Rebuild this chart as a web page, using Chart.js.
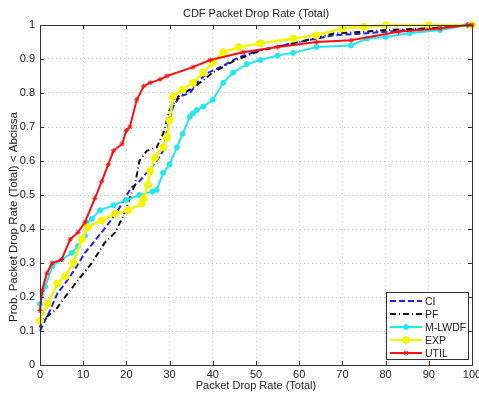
<!DOCTYPE html>
<html>
<head>
<meta charset="utf-8">
<script src="https://cdn.jsdelivr.net/npm/chart.js@4"></script>
<style>
  html, body { margin: 0; padding: 0; background: #fff; }
  #wrap { width: 479px; height: 393px; }
</style>
</head>
<body>
<div id="wrap"><canvas id="cdf-chart" width="479" height="393"></canvas></div>
<script>
// values (x = packet drop rate, y = CDF)
const ciX = [0, 2.3, 4, 5.8, 8, 10.4, 13, 15.5, 17.8, 19.7, 21, 23, 25, 27, 28.5, 29.6, 30.8, 32.4, 34.7, 37, 39, 41.7, 46, 51, 56, 60, 68, 75, 80, 85, 90, 95, 100];
const ciY = [0.10, 0.16, 0.21, 0.24, 0.28, 0.33, 0.37, 0.41, 0.45, 0.49, 0.52, 0.54, 0.57, 0.60, 0.63, 0.70, 0.76, 0.79, 0.80, 0.84, 0.86, 0.876, 0.905, 0.926, 0.94, 0.95, 0.97, 0.975, 0.98, 0.985, 0.99, 0.995, 1.0];

const pfX = [0, 0.4, 2.8, 3.5, 5.8, 8.8, 12, 15, 17.4, 19.7, 21, 22, 23, 24.7, 27, 28.5, 30, 32, 34.7, 37, 40, 45, 51, 60, 68, 75, 80, 90, 100];
const pfY = [0.11, 0.13, 0.155, 0.16, 0.20, 0.25, 0.30, 0.36, 0.39, 0.45, 0.50, 0.53, 0.60, 0.63, 0.64, 0.68, 0.75, 0.79, 0.81, 0.83, 0.86, 0.895, 0.925, 0.95, 0.975, 0.98, 0.985, 0.99, 1.0];

const mlwdfX = [0, 1.2, 2.8, 5, 7.4, 8.8, 10.4, 10.8, 12, 13.9, 17, 20, 23, 26, 27, 28.5, 30, 31.7, 33, 34.7, 35.4, 36.3, 37.8, 40, 42.4, 44.7, 47.9, 51, 55, 58.6, 64, 72, 75.7, 80, 85.6, 92.6, 99, 100];
const mlwdfY = [0.18, 0.23, 0.29, 0.31, 0.33, 0.35, 0.38, 0.42, 0.43, 0.455, 0.47, 0.485, 0.50, 0.51, 0.515, 0.565, 0.59, 0.64, 0.68, 0.73, 0.74, 0.75, 0.76, 0.78, 0.83, 0.86, 0.885, 0.897, 0.91, 0.918, 0.935, 0.94, 0.96, 0.965, 0.976, 0.985, 1.0, 1.0];

const expX = [0, 1.8, 4, 5.8, 7.7, 9.7, 11, 14.3, 17.4, 20.4, 23.6, 24, 25, 25.5, 26.6, 28.5, 29.4, 30, 30.8, 33, 35.4, 37.8, 40, 42.4, 46, 51, 58.6, 64, 70, 75, 80, 90, 100];
const expY = [0.13, 0.18, 0.24, 0.26, 0.30, 0.37, 0.405, 0.425, 0.445, 0.455, 0.475, 0.49, 0.53, 0.57, 0.61, 0.64, 0.67, 0.72, 0.79, 0.81, 0.83, 0.86, 0.89, 0.92, 0.935, 0.946, 0.96, 0.97, 0.99, 0.995, 1.0, 1.0, 1.0];

const utilX = [0, 0.5, 1.6, 2.8, 5, 7, 8.8, 10.4, 12.7, 14.3, 15.8, 17, 19, 20, 20.8, 22.4, 24, 25.5, 27.8, 29.4, 35.4, 39.4, 47, 55, 64, 72, 83, 92.6, 99, 100];
const utilY = [0.16, 0.22, 0.27, 0.30, 0.31, 0.37, 0.39, 0.42, 0.49, 0.54, 0.59, 0.63, 0.65, 0.69, 0.70, 0.78, 0.82, 0.83, 0.84, 0.85, 0.876, 0.897, 0.92, 0.935, 0.95, 0.955, 0.98, 0.99, 1.0, 1.0];

const seriesNames = ['CI', 'PF', 'M-LWDF', 'EXP', 'UTIL'];
const xTicks = [0, 10, 20, 30, 40, 50, 60, 70, 80, 90, 100];
const yTicks = [0, 0.1, 0.2, 0.3, 0.4, 0.5, 0.6, 0.7, 0.8, 0.9, 1];

const chartTitle = 'CDF Packet Drop Rate (Total)';
const yTitle = 'Prob. Packet Drop Rate (Total) < Abcissa';

const FONT = '"Liberation Sans", Arial, sans-serif';

function pairs(xs, ys) {
    return xs.map((x, i) => ({ x: x, y: ys[i] }));
}

// frame, inward tick marks, titles and the boxed legend, MATLAB style
const matlabFrame = {
    id: 'matlabFrame',
    afterDraw(chart) {
        const ctx = chart.ctx;
        const area = chart.chartArea;
        const xs = chart.scales.x;
        const ys = chart.scales.y;
        ctx.save();
        ctx.strokeStyle = '#333';
        ctx.lineWidth = 1;
        ctx.beginPath();
        xTicks.forEach(v => {
            const px = Math.round(xs.getPixelForValue(v)) + 0.5;
            ctx.moveTo(px, area.bottom); ctx.lineTo(px, area.bottom - 4);
            ctx.moveTo(px, area.top); ctx.lineTo(px, area.top + 4);
        });
        yTicks.forEach(v => {
            const py = Math.round(ys.getPixelForValue(v)) + 0.5;
            ctx.moveTo(area.left, py); ctx.lineTo(area.left + 4, py);
            ctx.moveTo(area.right, py); ctx.lineTo(area.right - 4, py);
        });
        ctx.stroke();
        ctx.strokeRect(Math.round(area.left) + 0.5, Math.round(area.top) + 0.5,
            Math.round(area.right - area.left), Math.round(area.bottom - area.top));

        // titles
        ctx.fillStyle = '#222';
        ctx.font = '11px ' + FONT;
        ctx.textAlign = 'center';
        ctx.textBaseline = 'middle';
        ctx.fillText(chartTitle, (area.left + area.right) / 2, 14);
        ctx.save();
        ctx.translate(14, 217);
        ctx.rotate(-Math.PI / 2);
        ctx.font = '11.5px ' + FONT;
        ctx.fillText(yTitle, 0, 0);
        ctx.restore();

        // legend box
        const bx = 386, by = 292, bw = 82, bh = 67;
        ctx.fillStyle = '#fff';
        ctx.fillRect(bx, by, bw, bh);
        ctx.strokeRect(bx + 0.5, by + 0.5, bw, bh);
        ctx.textAlign = 'left';
        ctx.font = '10.5px ' + FONT;
        chart.data.datasets.forEach((ds, i) => {
            const y = by + 9 + i * 13;
            ctx.save();
            ctx.strokeStyle = ds.borderColor;
            ctx.lineWidth = 2;
            ctx.setLineDash(ds.borderDash || []);
            ctx.beginPath();
            ctx.moveTo(390, y); ctx.lineTo(422, y);
            ctx.stroke();
            ctx.restore();
            if (ds.pointRadius > 0) {
                ctx.save();
                ctx.fillStyle = ds.borderColor;
                ctx.strokeStyle = ds.borderColor;
                Chart.helpers.drawPoint(ctx, {
                    pointStyle: ds.pointStyle,
                    radius: ds.pointRadius,
                    borderWidth: 1,
                    rotation: 0
                }, 406, y);
                ctx.restore();
            }
            ctx.fillStyle = '#222';
            ctx.fillText(ds.label, 425, y + 1);
        });
        ctx.restore();
    }
};

const ctx = document.getElementById('cdf-chart');
const cdfChart = new Chart(ctx, {
    type: 'scatter',
    data: {
        datasets: [
            {
                label: seriesNames[0],
                data: pairs(ciX, ciY),
                showLine: true,
                borderColor: '#1f1fff',
                borderWidth: 2,
                borderDash: [6, 3],
                pointRadius: 0,
                order: 5,
                clip: false
            },
            {
                label: seriesNames[1],
                data: pairs(pfX, pfY),
                showLine: true,
                borderColor: '#111',
                borderWidth: 2,
                borderDash: [6, 3, 1, 3],
                pointRadius: 0,
                order: 4,
                clip: false
            },
            {
                label: seriesNames[2],
                data: pairs(mlwdfX, mlwdfY),
                showLine: true,
                borderColor: '#22e6f0',
                backgroundColor: '#22e6f0',
                borderWidth: 2,
                pointStyle: 'circle',
                pointRadius: 2.5,
                pointBorderWidth: 1,
                order: 3,
                clip: false
            },
            {
                label: seriesNames[3],
                data: pairs(expX, expY),
                showLine: true,
                borderColor: '#f5f500',
                backgroundColor: '#f5f500',
                borderWidth: 2.5,
                pointStyle: 'circle',
                pointRadius: 3.5,
                pointBorderWidth: 1,
                order: 2,
                clip: false
            },
            {
                label: seriesNames[4],
                data: pairs(utilX, utilY),
                showLine: true,
                borderColor: '#ff1010',
                backgroundColor: '#ff1010',
                borderWidth: 2,
                pointStyle: 'star',
                pointRadius: 2.5,
                pointBorderWidth: 1,
                order: 1,
                clip: false
            }
        ]
    },
    options: {
        responsive: false,
        animation: false,
        layout: { padding: { top: 25, right: 7, bottom: 0, left: 0 } },
        plugins: {
            legend: { display: false },
            tooltip: { enabled: false },
            title: { display: false }
        },
        scales: {
            x: {
                type: 'linear',
                min: 0,
                max: 100,
                afterFit: (scale) => {
                    scale.height = 28;
                    scale.paddingRight = 0;
                    scale.paddingLeft = 0;
                },
                afterBuildTicks: (scale) => { scale.ticks = xTicks.map(v => ({ value: v })); },
                ticks: { color: '#222', padding: 3, font: { family: FONT, size: 11 }, maxRotation: 0 },
                grid: { color: '#c8c8c8', drawTicks: false },
                border: { display: false, dash: [1, 3] },
                title: {
                    display: true,
                    text: 'Packet Drop Rate (Total)',
                    color: '#222',
                    font: { family: FONT, size: 11 },
                    padding: { top: 0, bottom: 0 }
                }
            },
            y: {
                type: 'linear',
                min: 0,
                max: 1,
                afterFit: (scale) => {
                    scale.width = 40;
                    scale.paddingTop = 0;
                    scale.paddingBottom = 0;
                },
                afterBuildTicks: (scale) => { scale.ticks = yTicks.map(v => ({ value: v })); },
                ticks: {
                    color: '#222',
                    padding: 5,
                    font: { family: FONT, size: 11 },
                    callback: (v) => String(parseFloat(Number(v).toFixed(1)))
                },
                grid: { color: '#c8c8c8', drawTicks: false },
                border: { display: false, dash: [1, 3] },
                title: { display: false }
            }
        }
    },
    plugins: [matlabFrame]
});
</script>
</body>
</html>
